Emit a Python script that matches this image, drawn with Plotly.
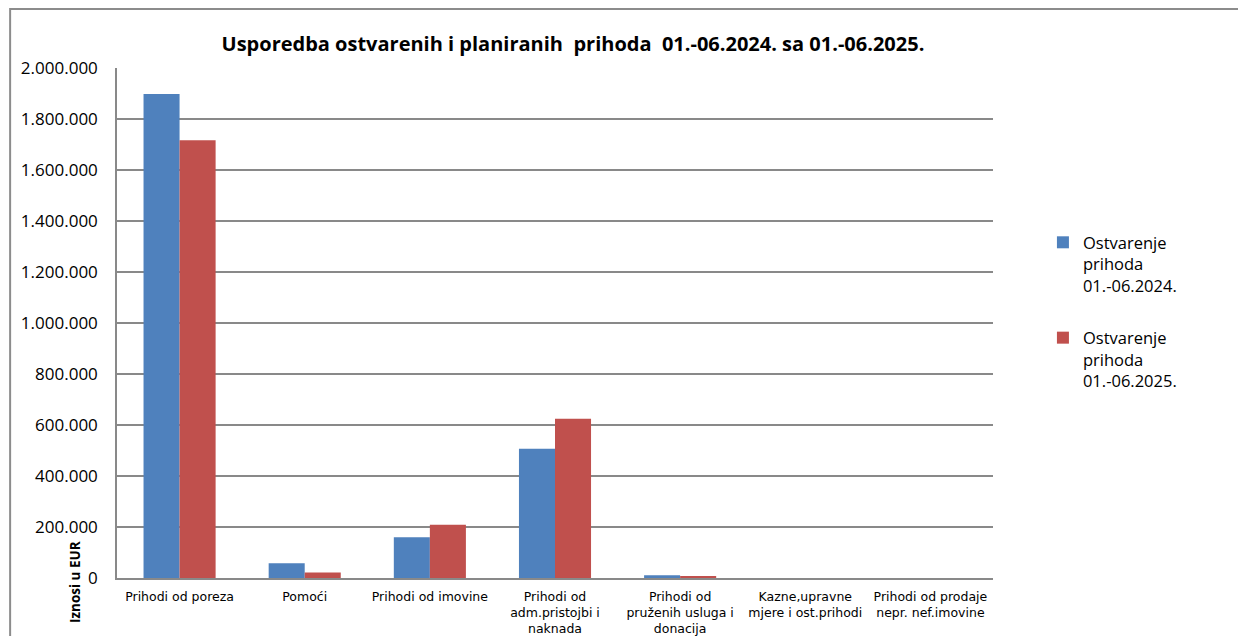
import plotly.graph_objects as go

categories = [
    "Prihodi od poreza",
    "Pomoći",
    "Prihodi od imovine",
    "Prihodi od<br>adm.pristojbi i<br>naknada",
    "Prihodi od<br>pruženih usluga i<br>donacija",
    "Kazne,upravne<br>mjere i ost.prihodi",
    "Prihodi od prodaje<br>nepr. nef.imovine",
]
series_2024_name = "Ostvarenje<br>prihoda<br>01.-06.2024."
series_2025_name = "Ostvarenje<br>prihoda<br>01.-06.2025."
values_2024 = [1898000, 58000, 160000, 507000, 10500, 0, 0]
values_2025 = [1717000, 22000, 209000, 625000, 5000, 0, 0]
y_ticks = list(range(0, 2000001, 200000))

title_text = "Usporedba ostvarenih i planiranih\u00a0 prihoda\u00a0 01.-06.2024. sa 01.-06.2025."
yaxis_title = "Iznosi u EUR"

FONT = "Open Sans"
TXT = "#000000"

fig = go.Figure()
fig.add_trace(go.Bar(x=categories, y=values_2024, name=series_2024_name,
                     marker=dict(color="#4F81BD", line=dict(width=0)),
                     legendgroup="a"))
fig.add_trace(go.Bar(x=categories, y=values_2025, name=series_2025_name,
                     marker=dict(color="#C0504D", line=dict(width=0)),
                     legendgroup="b"))

fig.update_layout(
    width=1238, height=628,
    margin=dict(l=109, r=253, t=60, b=58, autoexpand=False),
    paper_bgcolor="white", plot_bgcolor="white",
    separators=",.",
    font=dict(family=FONT, color=TXT, size=13),
    barmode="group", bargap=0.424, bargroupgap=0,
    showlegend=True,
    legend=dict(x=1.057, y=0.692, xanchor="left", yanchor="top",
                font=dict(size=16.5, family=FONT), tracegroupgap=28,
                valign="top", itemwidth=30),
    title=dict(text="<b>" + title_text + "</b>", xref="paper", x=0.5205,
               xanchor="center", y=0.942, yanchor="middle",
               font=dict(size=20, family=FONT)),
    xaxis=dict(showgrid=False, showline=True, linecolor="#898989", linewidth=1.5,
               ticks="", tickfont=dict(size=12.5, family="DejaVu Sans"),
               ticklabelstandoff=6, automargin=False, fixedrange=True),
    yaxis=dict(range=[0, 2000000], tickvals=y_ticks, tickformat=",d",
               showgrid=True, gridcolor="#898989", gridwidth=1.5,
               showline=True, linecolor="#898989", linewidth=1.5,
               zeroline=False, ticks="", tickfont=dict(size=17),
               ticklabelstandoff=14, automargin=False, fixedrange=True),
    annotations=[dict(text="<b>" + yaxis_title + "</b>", textangle=-90,
                      xref="paper", yref="paper", x=-0.048, y=-0.008,
                      xanchor="center", yanchor="middle", showarrow=False,
                      font=dict(size=13.5, family=FONT))],
    shapes=[dict(type="rect", xref="paper", yref="paper",
                 x0=-0.122, x1=1.35, y0=-0.3, y1=1.1157,
                 line=dict(color="#8c8c8c", width=2), layer="below")],
)

fig.write_html("out.html")
